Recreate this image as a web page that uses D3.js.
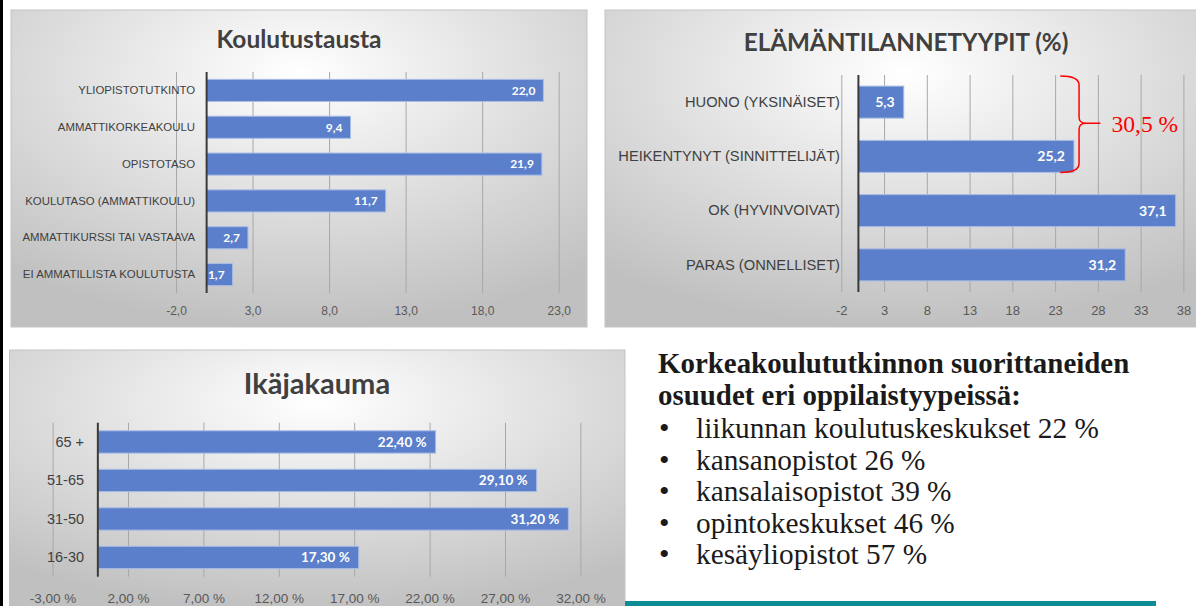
<!DOCTYPE html>
<html>
<head>
<meta charset="utf-8">
<script src="https://cdn.jsdelivr.net/npm/d3@7"></script>
<style>
    html, body { margin: 0; padding: 0; background: #fff; }
    svg { display: block; }
</style>
</head>
<body>
<div id="chart"></div>
<script>
// Koulutustausta
const eduCategories = ["YLIOPISTOTUTKINTO", "AMMATTIKORKEAKOULU", "OPISTOTASO",
    "KOULUTASO (AMMATTIKOULU)", "AMMATTIKURSSI TAI VASTAAVA", "EI AMMATILLISTA KOULUTUSTA"];
const eduValues = [22.0, 9.4, 21.9, 11.7, 2.7, 1.7];
const eduTicks = [-2, 3, 8, 13, 18, 23];

// Elämäntilannetyypit (%)
const lifeCategories = ["HUONO (YKSINÄISET)", "HEIKENTYNYT (SINNITTELIJÄT)", "OK (HYVINVOIVAT)", "PARAS (ONNELLISET)"];
const lifeValues = [5.3, 25.2, 37.1, 31.2];
const lifeTicks = [-2, 3, 8, 13, 18, 23, 28, 33, 38];

// Ikäjakauma
const ageCategories = ["65 +", "51-65", "31-50", "16-30"];
const ageValues = [22.4, 29.1, 31.2, 17.3];
const ageTicks = [-3, 2, 7, 12, 17, 22, 27, 32];

// Korkeakoulututkinnon suorittaneiden osuudet
const shareTypes = ["liikunnan koulutuskeskukset", "kansanopistot", "kansalaisopistot", "opintokeskukset", "kesäyliopistot"];
const shareValues = [22, 26, 39, 46, 57];

const fi = d3.formatLocale({decimal: ",", thousands: "\u00a0", grouping: [3], currency: ["", " €"], minus: "-"});
const f1 = fi.format(".1f");
const f0 = fi.format("d");
const pct2 = v => fi.format(".2f")(v) + " %";

const width = 1196, height = 606;
const sans = "Lato, 'Noto Sans', sans-serif";
const serif = "'Liberation Serif', 'Times New Roman', serif";

const svg = d3.select("#chart").append("svg")
    .attr("width", width)
    .attr("height", height);

const grad = svg.append("defs").append("radialGradient")
    .attr("id", "panelBg")
    .attr("cx", "50%").attr("cy", "20%").attr("r", "80%");
grad.append("stop").attr("offset", "0%").attr("stop-color", "#ffffff");
grad.append("stop").attr("offset", "100%").attr("stop-color", "#c0c0c0");

// black edge on the left
svg.append("rect").attr("x", 0).attr("y", 0).attr("width", 3).attr("height", height).attr("fill", "#000");

function drawPanel(p) {
    const g = svg.append("g");

    g.append("rect")
        .attr("x", p.box[0]).attr("y", p.box[1])
        .attr("width", p.box[2]).attr("height", p.box[3])
        .attr("fill", "url(#panelBg)")
        .attr("stroke", "#c4c4c4");

    g.append("text")
        .attr("x", p.titleX).attr("y", p.titleY)
        .attr("text-anchor", "middle")
        .attr("font-family", sans)
        .attr("font-weight", 700)
        .attr("font-size", p.titleSize)
        .attr("fill", "#404040")
        .text(p.title);

    const x = d3.scaleLinear().domain(p.domain).range(p.xRange);
    const y = d3.scaleBand().domain(p.categories).range(p.yRange)
        .paddingInner(p.pad).paddingOuter(p.pad / 2);

    const xAxis = d3.axisBottom(x)
        .tickValues(p.ticks)
        .tickFormat(p.tickFormat)
        .tickSize(-(p.yRange[1] - p.yRange[0]))
        .tickPadding(p.tickPad);

    const ax = g.append("g")
        .attr("transform", `translate(0,${p.yRange[1]})`)
        .attr("font-family", sans)
        .call(xAxis);
    ax.select(".domain").remove();
    ax.selectAll(".tick line").attr("stroke", "#a8a8a8");
    ax.selectAll(".tick text").attr("fill", "#595959").attr("font-size", p.tickFont);

    const yAxis = d3.axisLeft(y).tickSize(0).tickPadding(x(0) - p.labelRight);
    const ay = g.append("g")
        .attr("transform", `translate(${x(0)},0)`)
        .attr("font-family", sans)
        .call(yAxis);
    ay.select(".domain").remove();
    ay.selectAll(".tick text").attr("fill", "#404040").attr("font-size", p.catFont);

    const rows = p.categories.map((c, i) => ({cat: c, value: p.values[i]}));

    g.selectAll(".bar")
        .data(rows)
        .enter().append("rect")
        .attr("class", "bar")
        .attr("x", x(0))
        .attr("y", d => y(d.cat))
        .attr("width", d => x(d.value) - x(0))
        .attr("height", y.bandwidth())
        .attr("fill", "#5b7fca")
        .attr("stroke", "#a9bde6")
        .attr("stroke-width", 1);

    g.selectAll(".val")
        .data(rows)
        .enter().append("text")
        .attr("class", "val")
        .attr("x", d => x(d.value) - p.inset)
        .attr("y", d => y(d.cat) + y.bandwidth() / 2)
        .attr("dy", "0.36em")
        .attr("text-anchor", "end")
        .attr("font-family", sans)
        .attr("font-weight", 700)
        .attr("font-size", p.valFont)
        .attr("fill", "#fff")
        .text(d => p.valFormat(d.value));

    g.append("line")
        .attr("x1", x(0)).attr("x2", x(0))
        .attr("y1", p.yRange[0]).attr("y2", p.yRange[1])
        .attr("stroke", "#3a3a3a")
        .attr("stroke-width", 2);

    return {g, x, y};
}

drawPanel({
    box: [11, 10, 576, 317],
    title: "Koulutustausta", titleX: 299, titleY: 48, titleSize: 24.5,
    categories: eduCategories, values: eduValues, ticks: eduTicks,
    domain: [-2, 23], xRange: [176, 558.7], yRange: [72, 293], pad: 0.4,
    tickFormat: f1, tickPad: 13, tickFont: 12,
    labelRight: 195, catFont: 11.4,
    valFormat: f1, valFont: 12, inset: 8
});

const life = drawPanel({
    box: [605, 10, 600, 317],
    title: "ELÄMÄNTILANNETYYPIT (%)", titleX: 906, titleY: 51, titleSize: 24.2,
    categories: lifeCategories, values: lifeValues, ticks: lifeTicks,
    domain: [-2, 38], xRange: [841.3, 1183.4], yRange: [75, 292], pad: 0.41,
    tickFormat: f0, tickPad: 14, tickFont: 13,
    labelRight: 840, catFont: 14.7,
    valFormat: f1, valFont: 14, inset: 9
});

drawPanel({
    box: [9.5, 350, 615.5, 262],
    title: "Ikäjakauma", titleX: 317, titleY: 394, titleSize: 29,
    categories: ageCategories, values: ageValues, ticks: ageTicks,
    domain: [-3, 32], xRange: [52.6, 580.4], yRange: [422.7, 576.7], pad: 0.42,
    tickFormat: pct2, tickPad: 17, tickFont: 13.5,
    labelRight: 84, catFont: 14.5,
    valFormat: pct2, valFont: 13.5, inset: 9
});

// red brace: HUONO + HEIKENTYNYT
{
    const {g, x, y} = life;
    const gap = (y.step() - y.bandwidth()) / 2;
    const top = y(lifeCategories[0]) - gap + 1;
    const bottom = y(lifeCategories[1]) + y.bandwidth();
    const mid = (top + bottom) / 2 - 1;
    const x0 = x(23.6), x1 = x(25.8), x2 = x(28.3);
    const path = d3.path();
    path.moveTo(x0, top);
    path.quadraticCurveTo(x1, top, x1, top + 9);
    path.lineTo(x1, mid - 6);
    path.quadraticCurveTo(x1, mid, x1 + 7, mid);
    path.lineTo(x2, mid);
    path.moveTo(x1 + 7, mid);
    path.quadraticCurveTo(x1, mid, x1, mid + 6);
    path.lineTo(x1, bottom - 9);
    path.quadraticCurveTo(x1, bottom, x0, bottom);
    g.append("path")
        .attr("d", path.toString())
        .attr("fill", "none")
        .attr("stroke", "#ff0000")
        .attr("stroke-width", 1.5);
    g.append("text")
        .attr("x", x(29.6))
        .attr("y", mid + 9)
        .attr("font-family", serif)
        .attr("font-size", 23.5)
        .attr("fill", "#ff0000")
        .text(f1(lifeValues[0] + lifeValues[1]) + " %");
}

// text block
const tb = svg.append("g").attr("font-family", serif).attr("fill", "#1a1a1a");
tb.append("text").attr("x", 658).attr("y", 373)
    .attr("font-weight", 700).attr("font-size", 28.9)
    .text("Korkeakoulututkinnon suorittaneiden");
tb.append("text").attr("x", 658).attr("y", 405)
    .attr("font-weight", 700).attr("font-size", 28.9)
    .text("osuudet eri oppilaistyypeissä:");

const lineY = d3.scalePoint().domain(shareTypes).range([438, 564]);
const items = tb.selectAll(".item")
    .data(shareTypes)
    .enter().append("g")
    .attr("class", "item")
    .attr("transform", d => `translate(0,${lineY(d)})`);
items.append("text").attr("x", 659).attr("font-size", 30).text("•");
items.append("text").attr("x", 696).attr("font-size", 29.3)
    .text((d, i) => `${d} ${shareValues[i]} %`);

// teal rule
svg.append("rect")
    .attr("x", 625).attr("y", 601)
    .attr("width", 531).attr("height", 5)
    .attr("fill", "#0e8c96");
</script>
</body>
</html>
